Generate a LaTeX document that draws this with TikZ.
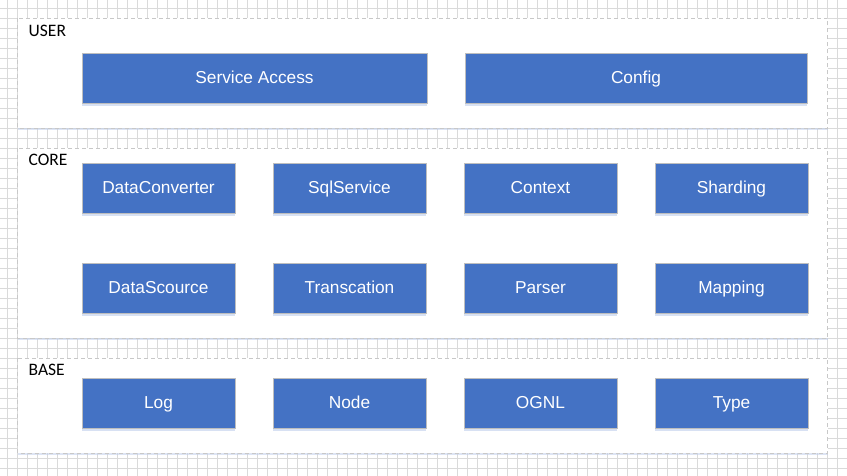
\documentclass[tikz,border=0pt]{standalone}
\usepackage{fontspec}
\setmainfont{Liberation Sans}
\newfontfamily\labelfont{Carlito}
\usetikzlibrary{shadows}
\definecolor{boxblue}{RGB}{68,114,196}
\definecolor{gridgray}{RGB}{218,218,218}
\definecolor{panelborder}{RGB}{200,200,200}
\definecolor{boxborder}{RGB}{190,190,190}
\definecolor{shadowblue}{RGB}{190,205,235}
\begin{document}
\begin{tikzpicture}[x=1pt,y=-1pt,
  panel/.style={draw=panelborder, dash pattern=on 4pt off 3pt, line width=0.8pt, fill=white,
    drop shadow={shadow xshift=0pt, shadow yshift=-2pt, fill=shadowblue, opacity=0.5}},
  blk/.style={draw=boxborder, line width=0.8pt, fill=boxblue, text=white,
    font=\fontsize{17.3}{20}\selectfont, inner sep=0pt, text height=10.6pt, text depth=0pt,
    drop shadow={shadow xshift=0pt, shadow yshift=-3pt, fill=shadowblue, opacity=0.6}},
  layerlabel/.style={anchor=base west, inner sep=0pt, font=\labelfont\fontsize{17.5}{20}\selectfont}
]
\useasboundingbox (0,0) rectangle (847,476);
\fill[white] (0,0) rectangle (847,476);
\foreach \x in {7,17,...,847} \draw[gridgray, line width=0.7pt] (\x,0) -- (\x,476);
\foreach \y in {8,18,...,476} \draw[gridgray, line width=0.7pt] (0,\y) -- (847,\y);

% panels
\draw[panel] (17.5,18.5) rectangle (827.5,128);
\draw[panel] (17.5,148) rectangle (827.5,338);
\draw[panel] (17.5,358) rectangle (827.5,453);

\node[layerlabel] (userlbl) at (28.5,36.5) {USER};
\node[layerlabel] (corelbl) at (28.5,166) {CORE};
\node[layerlabel] (baselbl) at (28.5,375.5) {BASE};

% USER
\node[blk, minimum width=345pt, minimum height=50pt] (access) at (254.5,78) {Service Access};
\node[blk, minimum width=342pt, minimum height=50pt] (config) at (636,78) {Config};

% CORE
\tikzset{sm/.style={blk, minimum width=153pt, minimum height=50pt}}
\node[sm] (conv) at (158.5,188) {DataConverter};
\node[sm] (sql) at (349.5,188) {SqlService};
\node[sm] (ctx) at (540.5,188) {Context};
\node[sm] (shard) at (731.5,188) {Sharding};
\node[sm] (ds) at (158.5,288) {DataScource};
\node[sm] (tx) at (349.5,288) {Transcation};
\node[sm] (parser) at (540.5,288) {Parser};
\node[sm] (map) at (731.5,288) {Mapping};

% BASE
\node[sm] (log) at (158.5,403) {Log};
\node[sm] (nd) at (349.5,403) {Node};
\node[sm] (ognl) at (540.5,403) {OGNL};
\node[sm] (type) at (731.5,403) {Type};
\end{tikzpicture}
\end{document}
